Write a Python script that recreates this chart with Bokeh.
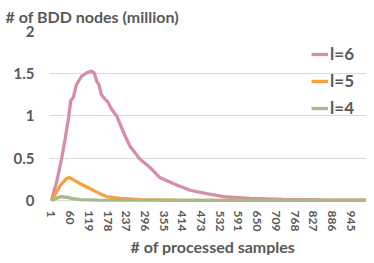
from bokeh.plotting import figure
from bokeh.models import Range1d, FixedTicker, Legend, LegendItem, Title
from bokeh.embed import file_html
from bokeh.resources import INLINE

# ---- data ----
l6_x = [1, 17, 33, 44, 54, 62, 70, 80, 96, 112, 128, 136, 144, 151, 159, 170, 180,
        191, 207, 217, 228, 249, 280, 312, 343, 385, 438, 491, 554, 627, 731, 848, 1000]
l6_y = [0, 0.21, 0.49, 0.72, 0.95, 1.18, 1.22, 1.37, 1.47, 1.51, 1.53, 1.51, 1.41, 1.37,
        1.25, 1.20, 1.16, 1.08, 1.00, 0.91, 0.81, 0.64, 0.49, 0.39, 0.27, 0.20, 0.12,
        0.08, 0.04, 0.025, 0.012, 0.006, 0.002]

l5_x = [1, 28, 49, 58, 91, 122, 154, 175, 217, 280, 400, 600, 1000]
l5_y = [0, 0.17, 0.26, 0.27, 0.20, 0.14, 0.08, 0.045, 0.023, 0.01, 0.004, 0.001, 0]

l4_x = [1, 20, 33, 50, 70, 91, 150, 1000]
l4_y = [0, 0.03, 0.045, 0.035, 0.02, 0.008, 0.002, 0]

series_names = ["l=6", "l=5", "l=4"]
series_colors = ["#d68ea8", "#f7a13d", "#a5b98c"]

x_ticks = [1, 60, 119, 178, 237, 296, 355, 414, 473, 532, 591, 650, 709, 768, 827, 886, 945]
y_ticks = [0, 0.5, 1, 1.5, 2]
y_tick_labels = ["0", "0.5", "1", "1.5", "2"]

y_title = "# of BDD nodes (million)"
x_title = "# of processed samples"

TXT = "#595959"
FONT = "Lato"

p = figure(width=366, height=255, output_backend="svg", toolbar_location=None,
           x_range=Range1d(-5, 995), y_range=Range1d(-0.025, 2.0),
           min_border_left=49, min_border_right=0, min_border_top=31, min_border_bottom=50)
p.outline_line_color = None
p.background_fill_color = "white"
p.border_fill_color = "white"

p.title.text = y_title
p.title.align = "left"
p.title.vertical_align = "middle"
p.title.offset = -44
p.title.standoff = 10
p.title.text_font = FONT
p.title.text_font_style = "bold"
p.title.text_font_size = "16px"
p.title.text_color = TXT

p.xgrid.grid_line_color = None
p.ygrid.grid_line_color = "#d9d9d9"
p.ygrid.grid_line_width = 1

for ax in (p.xaxis[0], p.yaxis[0]):
    ax.axis_line_color = None
    ax.major_tick_line_color = None
    ax.minor_tick_line_color = None
    ax.major_tick_out = 0
    ax.major_tick_in = 0
    ax.minor_tick_out = 0
    ax.minor_tick_in = 0
    ax.major_label_text_color = TXT
    ax.major_label_text_font = FONT
    ax.major_label_text_font_style = "bold"

p.yaxis.ticker = FixedTicker(ticks=y_ticks)
p.yaxis.major_label_overrides = {t: s for t, s in zip(y_ticks, y_tick_labels)}
p.yaxis.major_label_text_font_size = "15px"
p.yaxis.major_label_standoff = 15

p.xaxis.ticker = FixedTicker(ticks=x_ticks)
p.xaxis.major_label_overrides = {t: str(t) for t in x_ticks}
p.xaxis.major_label_orientation = "vertical"
p.xaxis.major_label_text_font_size = "12px"
p.xaxis.major_label_standoff = 8

r6 = p.line(l6_x, l6_y, line_color=series_colors[0], line_width=3.3)
r5 = p.line(l5_x, l5_y, line_color=series_colors[1], line_width=3.3)
r4 = p.line(l4_x, l4_y, line_color=series_colors[2], line_width=3.3)

legend = Legend(items=[LegendItem(label=series_names[0], renderers=[r6]),
                       LegendItem(label=series_names[1], renderers=[r5]),
                       LegendItem(label=series_names[2], renderers=[r4])],
                location="top_right", orientation="vertical",
                label_text_font=FONT, label_text_font_style="bold",
                label_text_font_size="17px", label_text_color=TXT,
                glyph_width=17, glyph_height=20, label_height=20, label_standoff=2,
                spacing=6, padding=0, margin=12,
                border_line_color=None, background_fill_alpha=0)
p.add_layout(legend)

xt = Title(text=x_title, align="left", offset=81, standoff=0,
           text_font=FONT, text_font_style="bold", text_font_size="16px",
           text_color=TXT)
p.add_layout(xt, "below")

open("out.html", "w").write(file_html(p, INLINE))
